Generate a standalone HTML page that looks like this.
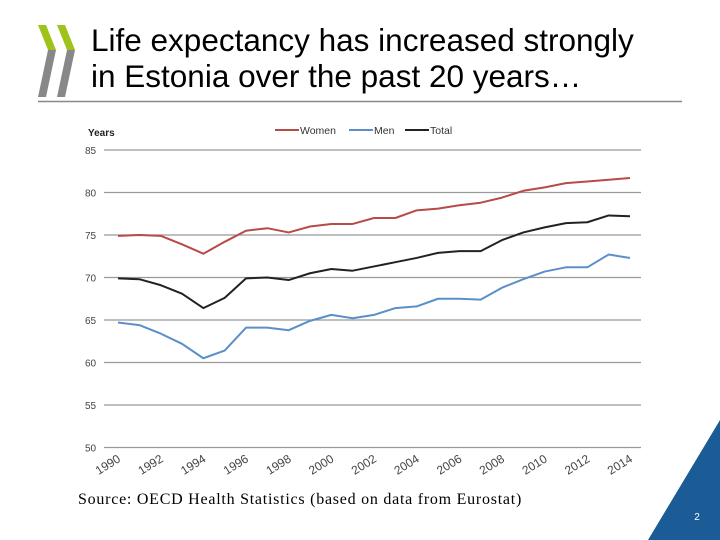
<!DOCTYPE html>
<html><head><meta charset="utf-8"><style>
body{margin:0;width:720px;height:540px;background:#fff;overflow:hidden;position:relative;font-family:"Liberation Sans",sans-serif}
#title{position:absolute;left:91px;top:22px;font-size:31.5px;line-height:36px;color:#000}
#src{position:absolute;left:78px;top:491px;font-family:"Liberation Serif",serif;font-size:16px;letter-spacing:0.75px}
</style></head><body>
<svg style="position:absolute;left:0;top:0" width="100" height="110">
<polygon points="38,25 46,25 56,50 48,50" fill="#9fc31a"/>
<polygon points="57,25 65,25 75,50 67,50" fill="#9fc31a"/>
<polygon points="48,50 56,50 46,97 38,97" fill="#888"/>
<polygon points="67,50 75,50 65,97 57,97" fill="#888"/>
</svg>
<div id="title">Life expectancy has increased strongly<br>in Estonia over the past 20 years…</div>
<svg style="position:absolute;left:0;top:0" width="720" height="110"><line x1="38" y1="101.5" x2="682" y2="101.5" stroke="#888" stroke-width="1.5"/></svg>
<svg id="chart" style="position:absolute;left:0;top:0" width="720" height="540"></svg>
<div id="src">Source: OECD Health Statistics (based on data from Eurostat)</div>
<svg style="position:absolute;left:0;top:0" width="720" height="540">
<polygon points="720,420 720,540 648,540" fill="#1c5c96"/>
<text x="697" y="520" fill="#fff" font-size="10" font-family="Liberation Sans" text-anchor="middle">2</text>
</svg>
<script>
const years=[1990,1991,1992,1993,1994,1995,1996,1997,1998,1999,2000,2001,2002,2003,2004,2005,2006,2007,2008,2009,2010,2011,2012,2013,2014];
const women=[74.9,75.0,74.9,73.9,72.8,74.2,75.5,75.8,75.3,76.0,76.3,76.3,77.0,77.0,77.9,78.1,78.5,78.8,79.4,80.2,80.6,81.1,81.3,81.5,81.7];
const men=[64.7,64.4,63.4,62.2,60.5,61.4,64.1,64.1,63.8,64.9,65.6,65.2,65.6,66.4,66.6,67.5,67.5,67.4,68.8,69.8,70.7,71.2,71.2,72.7,72.3];
const total=[69.9,69.8,69.1,68.1,66.4,67.6,69.9,70.0,69.7,70.5,71.0,70.8,71.3,71.8,72.3,72.9,73.1,73.1,74.4,75.3,75.9,76.4,76.5,77.3,77.2];
const yTicks=[50,55,60,65,70,75,80,85];
const xTicks=[1990,1992,1994,1996,1998,2000,2002,2004,2006,2008,2010,2012,2014];
const svg=document.getElementById('chart');const NS='http://www.w3.org/2000/svg';
const X=v=>118+(v-1990)*(630-118)/24;
const Y=v=>447.5-(v-50)*(297.5/35);
function mk(t,a){const e=document.createElementNS(NS,t);for(const k in a)e.setAttribute(k,a[k]);svg.appendChild(e);return e;}
yTicks.forEach(t=>{
const g=mk('line',{x1:104,x2:641,y1:Y(t),y2:Y(t),stroke:'#999','stroke-width':1.2});


const l=mk('text',{x:85,y:Y(t)+4,'font-size':10,fill:'#444','font-family':'Liberation Sans'});l.textContent=t;


});
xTicks.forEach(t=>{
const l=mk('text',{x:0,y:0,'font-size':12,fill:'#444','font-family':'Liberation Sans','text-anchor':'middle',transform:`translate(${X(t)-8},${468}) rotate(-32)`});l.textContent=t;


});
const yt=mk('text',{x:88,y:136,'font-size':10,'font-weight':'bold',fill:'#222','font-family':'Liberation Sans'});yt.textContent='Years';


[[women,'#b84a48','women'],[men,'#5b8fc8','men'],[total,'#222','total']].forEach(([d,c,n])=>{
const p=mk('polyline',{points:d.map((v,i)=>X(years[i])+','+Y(v)).join(' '),fill:'none',stroke:c,'stroke-width':2,'stroke-linejoin':'round'});


});
[['Women','#b84a48',275],['Men','#5b8fc8',349],['Total','#222',405]].forEach(([n,c,x])=>{
const l=mk('line',{x1:x,x2:x+24,y1:130,y2:130,stroke:c,'stroke-width':2});


const t=mk('text',{x:x+25,y:134,'font-size':10.5,fill:'#333','font-family':'Liberation Sans'});t.textContent=n;


});
</script>
</body></html>
